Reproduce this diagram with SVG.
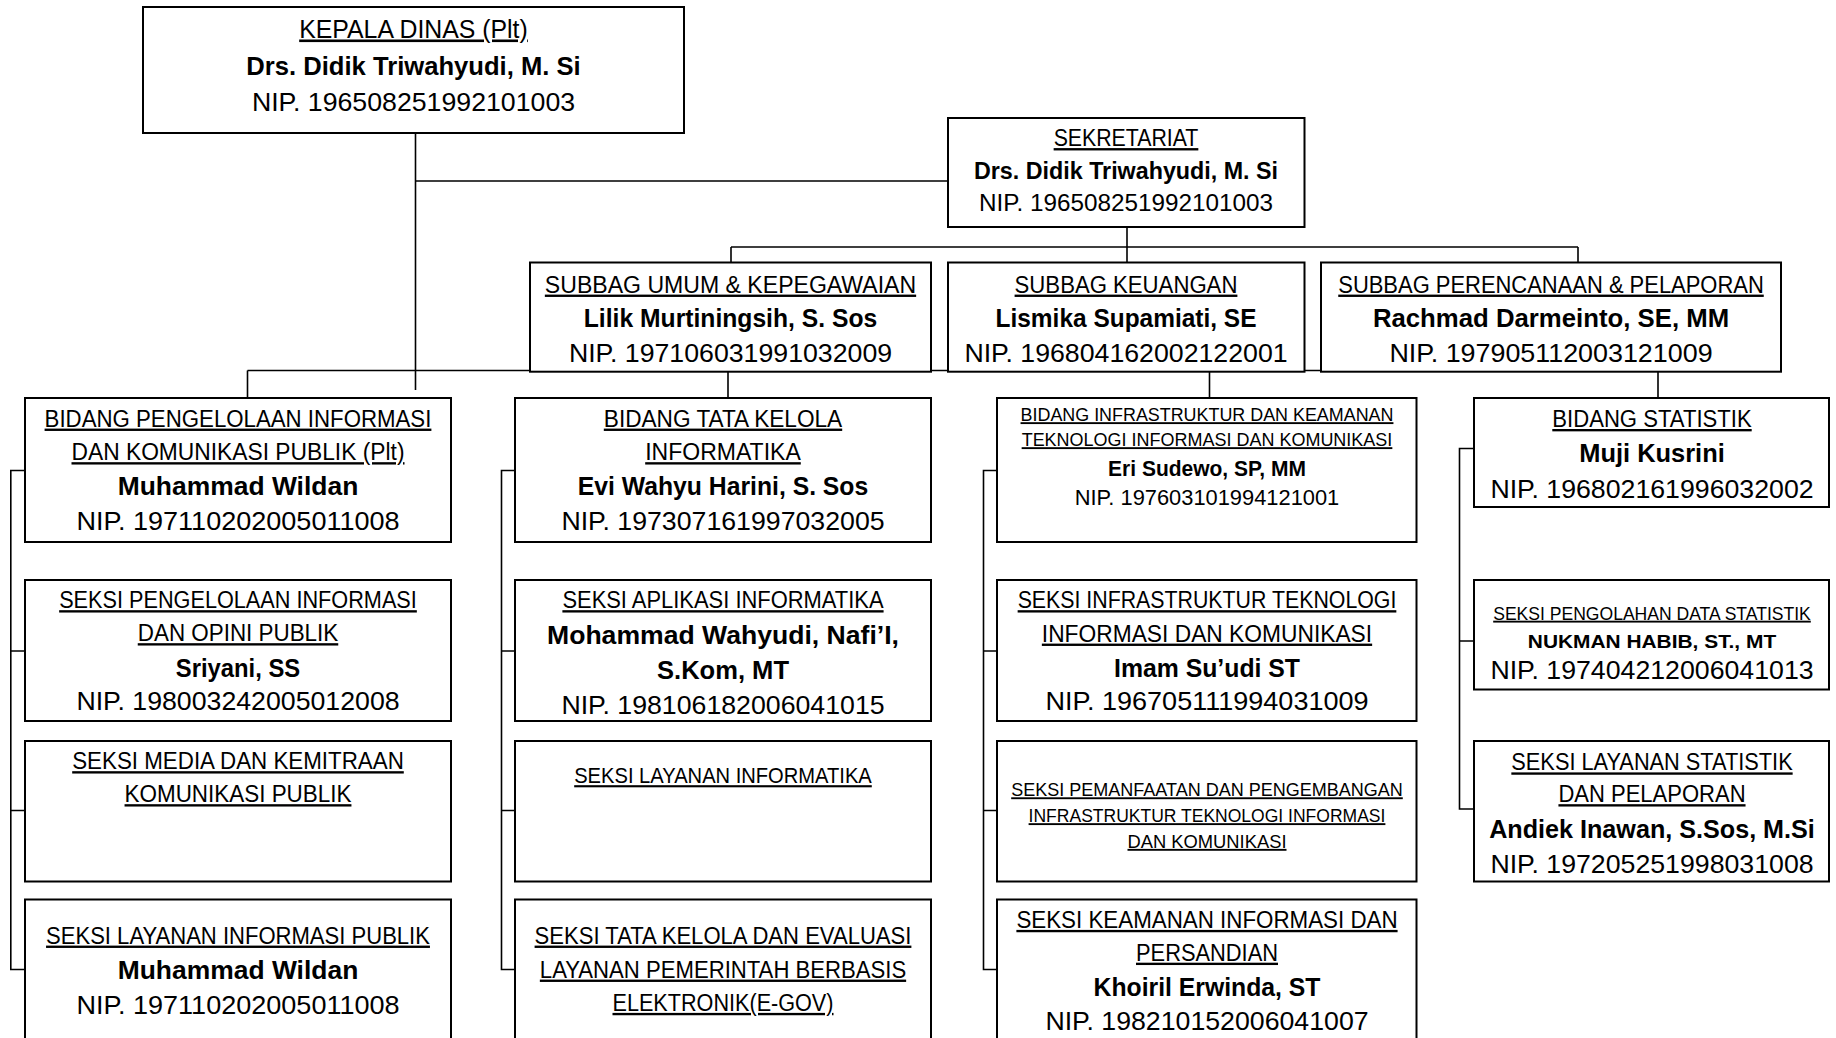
<svg xmlns="http://www.w3.org/2000/svg" width="1836" height="1038" viewBox="0 0 1836 1038">
<style>
.box{fill:#fff;stroke:#000;stroke-width:2}
.ln{stroke:#000;stroke-width:1.6;fill:none}
text{font-family:"Liberation Sans",Arial,sans-serif;text-anchor:middle;fill:#000}
.s22{font-size:25.9px}
.s20{font-size:23.5px}
.s18{font-size:21.2px}
.s16{font-size:18.8px}
.u{text-decoration:underline;text-decoration-thickness:2px}
.b{font-weight:bold}
</style>
<rect width="1836" height="1038" fill="#fff"/>
<g id="connectors">
<path class="ln" d="M415.5,133 V390 M415.5,181 H948 M1127,227 V262 M731,247 H1578 M731,247 V262 M1578,247 V262 M247.5,370.5 H1658 M247.5,370.5 V398 M728,371 V398 M1209.5,370.5 V398 M1658,370.5 V398"/>
<path class="ln" d="M25,470.5 H10.8 V969.5 H25 M10.8,651 H25 M10.8,810.5 H25"/>
<path class="ln" d="M515,470.5 H501.5 V969.5 H515 M501.5,651 H515 M501.5,810.5 H515"/>
<path class="ln" d="M997,470.5 H983.5 V969.5 H997 M983.5,651 H997 M983.5,810.5 H997"/>
<path class="ln" d="M1474,448.5 H1459.5 V809 H1474 M1459.5,641 H1474"/>
</g>
<g id="kepala-dinas">
<rect class="box" x="143" y="7" width="541" height="126"/>
<text class="s22 u" x="413.5" y="37.5" textLength="228.6" lengthAdjust="spacingAndGlyphs">KEPALA DINAS (Plt)</text>
<text class="s22 b" x="413.5" y="75.3" textLength="334.5" lengthAdjust="spacingAndGlyphs">Drs. Didik Triwahyudi, M. Si</text>
<text class="s22" x="413.5" y="110.5" textLength="323.2" lengthAdjust="spacingAndGlyphs">NIP. 196508251992101003</text>
</g>
<g id="sekretariat">
<rect class="box" x="948" y="118" width="356.5" height="109"/>
<text class="s20 u" x="1126" y="146.1" textLength="144.7" lengthAdjust="spacingAndGlyphs">SEKRETARIAT</text>
<text class="s20 b" x="1126" y="179.2" textLength="304" lengthAdjust="spacingAndGlyphs">Drs. Didik Triwahyudi, M. Si</text>
<text class="s20" x="1126" y="211.4" textLength="293.9" lengthAdjust="spacingAndGlyphs">NIP. 196508251992101003</text>
</g>
<g id="subbag-umum">
<rect class="box" x="530" y="262.5" width="401" height="109.2"/>
<text class="s20 u" x="730.5" y="292.6" textLength="371.3" lengthAdjust="spacingAndGlyphs">SUBBAG UMUM &amp; KEPEGAWAIAN</text>
<text class="s22 b" x="730.5" y="327.1" textLength="293.4" lengthAdjust="spacingAndGlyphs">Lilik Murtiningsih, S. Sos</text>
<text class="s22" x="730.5" y="361.7" textLength="323.2" lengthAdjust="spacingAndGlyphs">NIP. 197106031991032009</text>
</g>
<g id="subbag-keuangan">
<rect class="box" x="948" y="262.5" width="356.5" height="109.2"/>
<text class="s20 u" x="1126" y="292.6" textLength="222.8" lengthAdjust="spacingAndGlyphs">SUBBAG KEUANGAN</text>
<text class="s22 b" x="1126" y="327.1" textLength="261" lengthAdjust="spacingAndGlyphs">Lismika Supamiati, SE</text>
<text class="s22" x="1126" y="361.7" textLength="323.2" lengthAdjust="spacingAndGlyphs">NIP. 196804162002122001</text>
</g>
<g id="subbag-perencanaan">
<rect class="box" x="1321" y="262.5" width="460" height="109.2"/>
<text class="s20 u" x="1551" y="292.6" textLength="425.5" lengthAdjust="spacingAndGlyphs">SUBBAG PERENCANAAN &amp; PELAPORAN</text>
<text class="s22 b" x="1551" y="327.1" textLength="356.2" lengthAdjust="spacingAndGlyphs">Rachmad Darmeinto, SE, MM</text>
<text class="s22" x="1551" y="361.7" textLength="323.2" lengthAdjust="spacingAndGlyphs">NIP. 197905112003121009</text>
</g>
<g id="bidang-pikp">
<rect class="box" x="25" y="398" width="426" height="144"/>
<text class="s20 u" x="238" y="426.6" textLength="386.8" lengthAdjust="spacingAndGlyphs">BIDANG PENGELOLAAN INFORMASI</text>
<text class="s20 u" x="238" y="460.2" textLength="333" lengthAdjust="spacingAndGlyphs">DAN KOMUNIKASI PUBLIK (Plt)</text>
<text class="s22 b" x="238" y="494.7" textLength="240.6" lengthAdjust="spacingAndGlyphs">Muhammad Wildan</text>
<text class="s22" x="238" y="530.1" textLength="323.2" lengthAdjust="spacingAndGlyphs">NIP. 197110202005011008</text>
</g>
<g id="bidang-tki">
<rect class="box" x="515" y="398" width="416" height="144"/>
<text class="s20 u" x="723" y="426.6" textLength="238.4" lengthAdjust="spacingAndGlyphs">BIDANG TATA KELOLA</text>
<text class="s20 u" x="723" y="460.2" textLength="155.6" lengthAdjust="spacingAndGlyphs">INFORMATIKA</text>
<text class="s22 b" x="723" y="494.7" textLength="290.5" lengthAdjust="spacingAndGlyphs">Evi Wahyu Harini, S. Sos</text>
<text class="s22" x="723" y="530.1" textLength="323.2" lengthAdjust="spacingAndGlyphs">NIP. 197307161997032005</text>
</g>
<g id="bidang-infra">
<rect class="box" x="997" y="398" width="419.5" height="144"/>
<text class="s16 u" x="1207" y="421.2" textLength="372.9" lengthAdjust="spacingAndGlyphs">BIDANG INFRASTRUKTUR DAN KEAMANAN</text>
<text class="s16 u" x="1207" y="446.2" textLength="370.7" lengthAdjust="spacingAndGlyphs">TEKNOLOGI INFORMASI DAN KOMUNIKASI</text>
<text class="s18 b" x="1207" y="476.2" textLength="197.8" lengthAdjust="spacingAndGlyphs">Eri Sudewo, SP, MM</text>
<text class="s18" x="1207" y="505" textLength="264.5" lengthAdjust="spacingAndGlyphs">NIP. 197603101994121001</text>
</g>
<g id="bidang-statistik">
<rect class="box" x="1474" y="398" width="355" height="109"/>
<text class="s20 u" x="1652" y="427" textLength="199.4" lengthAdjust="spacingAndGlyphs">BIDANG STATISTIK</text>
<text class="s22 b" x="1652" y="462.3" textLength="145.5" lengthAdjust="spacingAndGlyphs">Muji Kusrini</text>
<text class="s22" x="1652" y="497.6" textLength="323.2" lengthAdjust="spacingAndGlyphs">NIP. 196802161996032002</text>
</g>
<g id="seksi-pengelolaan-informasi">
<rect class="box" x="25" y="580" width="426" height="141"/>
<text class="s20 u" x="238" y="608.2" textLength="357.7" lengthAdjust="spacingAndGlyphs">SEKSI PENGELOLAAN INFORMASI</text>
<text class="s20 u" x="238" y="641.2" textLength="200.5" lengthAdjust="spacingAndGlyphs">DAN OPINI PUBLIK</text>
<text class="s22 b" x="238" y="676.7" textLength="124.4" lengthAdjust="spacingAndGlyphs">Sriyani, SS</text>
<text class="s22" x="238" y="710" textLength="323.2" lengthAdjust="spacingAndGlyphs">NIP. 198003242005012008</text>
</g>
<g id="seksi-aplikasi">
<rect class="box" x="515" y="580" width="416" height="141"/>
<text class="s20 u" x="723" y="608.2" textLength="321.2" lengthAdjust="spacingAndGlyphs">SEKSI APLIKASI INFORMATIKA</text>
<text class="s22 b" x="723" y="644.1" textLength="352" lengthAdjust="spacingAndGlyphs">Mohammad Wahyudi, Nafi’I,</text>
<text class="s22 b" x="723" y="678.8" textLength="132" lengthAdjust="spacingAndGlyphs">S.Kom, MT</text>
<text class="s22" x="723" y="713.8" textLength="323.2" lengthAdjust="spacingAndGlyphs">NIP. 198106182006041015</text>
</g>
<g id="seksi-infrastruktur">
<rect class="box" x="997" y="580" width="419.5" height="141"/>
<text class="s20 u" x="1207" y="608.2" textLength="378.7" lengthAdjust="spacingAndGlyphs">SEKSI INFRASTRUKTUR TEKNOLOGI</text>
<text class="s20 u" x="1207" y="641.6" textLength="330.3" lengthAdjust="spacingAndGlyphs">INFORMASI DAN KOMUNIKASI</text>
<text class="s22 b" x="1207" y="676.7" textLength="186" lengthAdjust="spacingAndGlyphs">Imam Su’udi ST</text>
<text class="s22" x="1207" y="710" textLength="323.2" lengthAdjust="spacingAndGlyphs">NIP. 196705111994031009</text>
</g>
<g id="seksi-pengolahan-data">
<rect class="box" x="1474" y="580" width="355" height="109.5"/>
<text class="s16 u" x="1652" y="619.7" textLength="317.6" lengthAdjust="spacingAndGlyphs">SEKSI PENGOLAHAN DATA STATISTIK</text>
<text class="s16 b" x="1652" y="648.2" textLength="248.3" lengthAdjust="spacingAndGlyphs">NUKMAN HABIB, ST., MT</text>
<text class="s22" x="1652" y="679.3" textLength="323.2" lengthAdjust="spacingAndGlyphs">NIP. 197404212006041013</text>
</g>
<g id="seksi-media">
<rect class="box" x="25" y="741" width="426" height="140.5"/>
<text class="s20 u" x="238" y="769.2" textLength="331.6" lengthAdjust="spacingAndGlyphs">SEKSI MEDIA DAN KEMITRAAN</text>
<text class="s20 u" x="238" y="802.2" textLength="226.9" lengthAdjust="spacingAndGlyphs">KOMUNIKASI PUBLIK</text>
</g>
<g id="seksi-layanan-informatika">
<rect class="box" x="515" y="741" width="416" height="140.5"/>
<text class="s18 u" x="723" y="783.2" textLength="297.6" lengthAdjust="spacingAndGlyphs">SEKSI LAYANAN INFORMATIKA</text>
</g>
<g id="seksi-pemanfaatan">
<rect class="box" x="997" y="741" width="419.5" height="140.5"/>
<text class="s16 u" x="1207" y="796.3" textLength="391.6" lengthAdjust="spacingAndGlyphs">SEKSI PEMANFAATAN DAN PENGEMBANGAN</text>
<text class="s16 u" x="1207" y="822.2" textLength="356.8" lengthAdjust="spacingAndGlyphs">INFRASTRUKTUR TEKNOLOGI INFORMASI</text>
<text class="s16 u" x="1207" y="847.9" textLength="159" lengthAdjust="spacingAndGlyphs">DAN KOMUNIKASI</text>
</g>
<g id="seksi-layanan-statistik">
<rect class="box" x="1474" y="741" width="355" height="140.5"/>
<text class="s20 u" x="1652" y="770.4" textLength="281.3" lengthAdjust="spacingAndGlyphs">SEKSI LAYANAN STATISTIK</text>
<text class="s20 u" x="1652" y="802.2" textLength="187.1" lengthAdjust="spacingAndGlyphs">DAN PELAPORAN</text>
<text class="s22 b" x="1652" y="838.2" textLength="325.7" lengthAdjust="spacingAndGlyphs">Andiek Inawan, S.Sos, M.Si</text>
<text class="s22" x="1652" y="872.9" textLength="323.2" lengthAdjust="spacingAndGlyphs">NIP. 197205251998031008</text>
</g>
<g id="seksi-layanan-informasi-publik">
<rect class="box" x="25" y="899.5" width="426" height="150"/>
<text class="s20 u" x="238" y="943.6" textLength="383.9" lengthAdjust="spacingAndGlyphs">SEKSI LAYANAN INFORMASI PUBLIK</text>
<text class="s22 b" x="238" y="979.1" textLength="240.6" lengthAdjust="spacingAndGlyphs">Muhammad Wildan</text>
<text class="s22" x="238" y="1014.1" textLength="323.2" lengthAdjust="spacingAndGlyphs">NIP. 197110202005011008</text>
</g>
<g id="seksi-tata-kelola">
<rect class="box" x="515" y="899.5" width="416" height="150"/>
<text class="s20 u" x="723" y="943.6" textLength="376.8" lengthAdjust="spacingAndGlyphs">SEKSI TATA KELOLA DAN EVALUASI</text>
<text class="s20 u" x="723" y="977.6" textLength="366.3" lengthAdjust="spacingAndGlyphs">LAYANAN PEMERINTAH BERBASIS</text>
<text class="s20 u" x="723" y="1010.9" textLength="221" lengthAdjust="spacingAndGlyphs">ELEKTRONIK(E-GOV)</text>
</g>
<g id="seksi-keamanan">
<rect class="box" x="997" y="899.5" width="419.5" height="150"/>
<text class="s20 u" x="1207" y="927.9" textLength="381.2" lengthAdjust="spacingAndGlyphs">SEKSI KEAMANAN INFORMASI DAN</text>
<text class="s20 u" x="1207" y="960.7" textLength="142" lengthAdjust="spacingAndGlyphs">PERSANDIAN</text>
<text class="s22 b" x="1207" y="995.9" textLength="227" lengthAdjust="spacingAndGlyphs">Khoiril Erwinda, ST</text>
<text class="s22" x="1207" y="1030.1" textLength="323.2" lengthAdjust="spacingAndGlyphs">NIP. 198210152006041007</text>
</g>
</svg>
